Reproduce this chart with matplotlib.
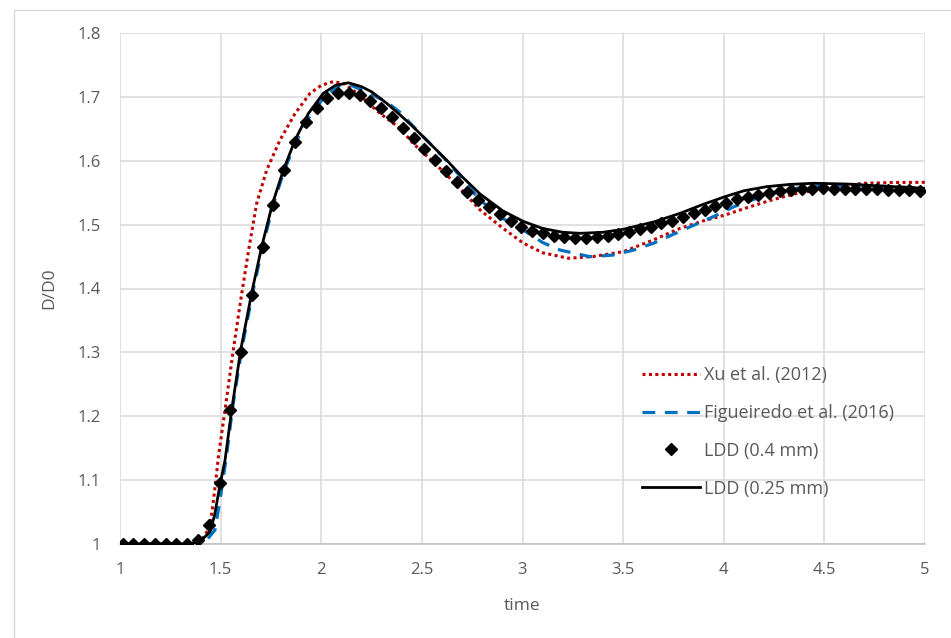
import numpy as np
import matplotlib
matplotlib.use("Agg")
import matplotlib.pyplot as plt
from matplotlib.lines import Line2D

plt.rcParams['font.family'] = ['Open Sans', 'DejaVu Sans']

# ---- data ----
xu_t = [1.0, 1.36, 1.41, 1.447, 1.465, 1.48, 1.489, 1.522, 1.563, 1.605, 1.642, 1.679,
        1.729, 1.795, 1.87, 1.944, 2.0, 2.06, 2.12, 2.2, 2.292, 2.391, 2.457, 2.54,
        2.623, 2.7, 2.789, 2.9, 3.004, 3.1, 3.228, 3.35, 3.501, 3.65, 3.783, 3.9,
        4.006, 4.12, 4.238, 4.35, 4.445, 4.55, 4.693, 4.85, 5.0]
xu_v = [1.0, 1.0, 1.008, 1.027, 1.07, 1.11, 1.137, 1.21, 1.304, 1.3925, 1.4655, 1.533,
        1.5855, 1.6325, 1.674, 1.7055, 1.718, 1.724, 1.72, 1.70, 1.674, 1.651, 1.627, 1.603,
        1.578, 1.553, 1.523, 1.495, 1.471, 1.456, 1.4473, 1.45, 1.4577, 1.476, 1.4942, 1.506,
        1.515, 1.527, 1.5385, 1.548, 1.5532, 1.56, 1.5647, 1.566, 1.5662]

fig_t = [1.0, 1.38, 1.43, 1.472, 1.5, 1.53, 1.56, 1.605, 1.66, 1.71, 1.763, 1.816,
         1.875, 1.94, 2.01, 2.093, 2.15, 2.25, 2.325, 2.391, 2.482, 2.55, 2.623, 2.7,
         2.789, 2.9, 3.004, 3.1, 3.186, 3.335, 3.451, 3.55, 3.65, 3.8, 3.948, 4.05,
         4.163, 4.26, 4.362, 4.5, 4.65, 4.8, 5.0]
fig_v = [1.0, 1.0, 1.006, 1.022, 1.075, 1.14, 1.215, 1.305, 1.395, 1.467, 1.533, 1.585,
         1.63, 1.668, 1.698, 1.7186, 1.718, 1.704, 1.692, 1.676, 1.6455, 1.624, 1.600, 1.572,
         1.5385, 1.51, 1.4916, 1.472, 1.4603, 1.4498, 1.4524, 1.46, 1.4708, 1.492, 1.5124, 1.528,
         1.5412, 1.55, 1.5568, 1.561, 1.562, 1.56, 1.557]

ldd04_t = list(np.round(1.013 + 0.05355 * np.arange(75), 4))
ldd04_v = [1.0, 1.0, 1.0, 1.0, 1.0, 1.0, 1.0, 1.007, 1.029, 1.096,
           1.21, 1.301, 1.39, 1.4645, 1.53, 1.5855, 1.63, 1.66, 1.683, 1.698,
           1.7055, 1.7066, 1.7024, 1.6935, 1.682, 1.668, 1.6518, 1.635, 1.618, 1.601,
           1.584, 1.567, 1.5506, 1.5385, 1.528, 1.5166, 1.5057, 1.4958, 1.4905, 1.4864,
           1.4827, 1.4801, 1.4796, 1.4796, 1.4801, 1.4827, 1.4853, 1.489, 1.4932, 1.4968,
           1.5021, 1.5062, 1.5115, 1.5177, 1.5229, 1.5292, 1.5343, 1.5396, 1.5428, 1.5464,
           1.549, 1.5521, 1.5537, 1.5553, 1.5563, 1.5568, 1.5563, 1.5563, 1.5563, 1.5558,
           1.5553, 1.5547, 1.5542, 1.5537, 1.5532]

ldd025_t = [1.0, 1.35, 1.398, 1.447, 1.47, 1.489, 1.505, 1.522, 1.555, 1.6, 1.654, 1.704,
            1.758, 1.812, 1.87, 1.936, 2.01, 2.07, 2.135, 2.2, 2.25, 2.325, 2.391, 2.457,
            2.54, 2.623, 2.7, 2.789, 2.9, 3.004, 3.1, 3.2, 3.286, 3.4, 3.501, 3.65,
            3.783, 3.9, 4.006, 4.1, 4.213, 4.33, 4.445, 4.611, 4.776, 5.0]
ldd025_v = [1.0, 1.0, 1.004, 1.019, 1.045, 1.079, 1.105, 1.1315, 1.21, 1.304, 1.3925, 1.4655,
            1.533, 1.5855, 1.6325, 1.674, 1.7055, 1.718, 1.722, 1.716, 1.708, 1.69, 1.672, 1.653,
            1.627, 1.601, 1.575, 1.548, 1.522, 1.505, 1.494, 1.488, 1.4864, 1.488, 1.4927, 1.504,
            1.5177, 1.532, 1.5437, 1.553, 1.5594, 1.563, 1.5647, 1.5636, 1.5605, 1.5568]

labels = ["Xu et al. (2012)", "Figueiredo et al. (2016)", "LDD (0.4 mm)", "LDD (0.25 mm)"]
x_ticks = [1, 1.5, 2, 2.5, 3, 3.5, 4, 4.5, 5]
x_ticklabels = ["1", "1.5", "2", "2.5", "3", "3.5", "4", "4.5", "5"]
y_ticks = [1, 1.1, 1.2, 1.3, 1.4, 1.5, 1.6, 1.7, 1.8]
y_ticklabels = ["1", "1.1", "1.2", "1.3", "1.4", "1.5", "1.6", "1.7", "1.8"]

# ---- figure ----
W, H = 951, 638
fig = plt.figure(figsize=(W / 100, H / 100), dpi=100)
ax = fig.add_axes([120 / W, 1 - 544 / H, (925 - 120) / W, (544 - 33) / H])

tc = '#595959'
ax.plot(xu_t, xu_v, color='#c00000', lw=2.2, linestyle=(0, (1, 1.1)), zorder=3)
ax.plot(fig_t, fig_v, color='#0070c0', lw=2.3, linestyle=(0, (4, 3)), zorder=3)
ax.plot(ldd04_t, ldd04_v, linestyle='none', marker='D', ms=5.8, color='black', zorder=4)
ax.plot(ldd025_t, ldd025_v, color='black', lw=2.0, zorder=5)

ax.set_xlim(1, 5)
ax.set_ylim(1, 1.8)
ax.set_xticks(x_ticks)
ax.set_xticklabels(x_ticklabels)
ax.set_yticks(y_ticks)
ax.set_yticklabels(y_ticklabels)
ax.tick_params(length=0, labelsize=12, labelcolor=tc)
ax.tick_params(axis='y', pad=14)
ax.tick_params(axis='x', pad=13)
ax.grid(True, color='#d9d9d9', lw=1.1)
ax.set_axisbelow(True)
for s in ['top', 'right', 'left']:
    ax.spines[s].set_visible(False)
ax.spines['bottom'].set_color('#bfbfbf')
ax.spines['bottom'].set_linewidth(1.1)

ax.set_xlabel('time', fontsize=12.5, color=tc, labelpad=14)
ax.set_ylabel('D/D0', fontsize=12.5, color=tc, labelpad=14)

handles = [
    Line2D([], [], color='#c00000', lw=2.2, linestyle=(0, (1, 1.1))),
    Line2D([], [], color='#0070c0', lw=2.3, linestyle=(0, (4, 3))),
    Line2D([], [], linestyle='none', marker='D', ms=5.8, color='black'),
    Line2D([], [], color='black', lw=2.0),
]
leg = fig.legend(handles, labels, loc='upper left', bbox_to_anchor=(642 / W, 1 - 366 / H),
                 frameon=False, fontsize=13, handlelength=3.2, handletextpad=0.25,
                 labelspacing=1.1, borderpad=0, borderaxespad=0, numpoints=1)
for t in leg.get_texts():
    t.set_color(tc)

# outer chart border
fig.add_artist(plt.Rectangle((14 / W, -0.01), 2, 1 - 10 / H + 0.01, transform=fig.transFigure,
                             fill=False, edgecolor='#d9d9d9', lw=1.0))

fig.savefig('out.png', dpi=100)
